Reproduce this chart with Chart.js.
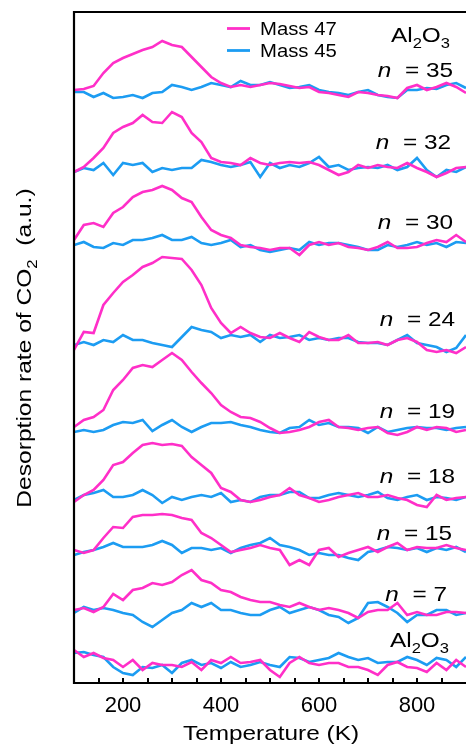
<!DOCTYPE html>
<html>
<head>
<meta charset="utf-8">
<script src="https://cdn.jsdelivr.net/npm/chart.js@4.4.1/dist/chart.umd.min.js"></script>
<style>
html,body{margin:0;padding:0;background:#fff;}
#wrap{position:relative;width:466px;height:749px;}
</style>
</head>
<body>
<div id="wrap"><canvas id="c" width="466" height="749"></canvas></div>
<script>
// Temperature grid (K)
const temps = [100,120,140,160,180,200,220,240,260,280,300,320,340,360,380,400,420,440,460,480,500,520,540,560,580,600,620,640,660,680,700,720,740,760,780,800,820,840,860,880,900];
const xTickLabels = [200,400,600,800];

// Samples (top to bottom) and their vertical stacking offsets (a.u.)
const samples = ['n = 35','n = 32','n = 30','n = 24','n = 19','n = 18','n = 15','n = 7','Al2O3'];
const offsets = [593,513,438,336,253,185,131,73,20];

// Mass 47 traces (a.u., relative to each offset)
const m47_35 = [0,1,4,17,27,32,36,40,43,49,45,43,33,23,13,7,3,5,3,5,7,6,4,2,3,-2,-3,-5,-7,-2,-3,-5,-6,-8,2,5,0,3,7,3,-3];
const m47_32 = [-2,3,12,22,37,43,47,55,48,47,58,53,37,28,12,8,7,5,12,7,5,7,8,7,8,5,0,-5,-2,5,2,5,3,2,7,2,-2,-7,-3,2,3];
const m47_30 = [5,20,22,18,32,38,48,53,55,59,55,47,43,28,15,10,7,0,-2,-3,-5,-3,-3,-10,0,3,0,2,-2,-3,-5,-2,3,-3,-3,-2,2,5,3,10,3];
const m47_24 = [-3,15,14,42,54,65,72,80,84,90,89,88,77,62,39,24,14,20,14,10,9,14,9,5,15,10,7,7,12,4,4,5,2,7,9,5,-3,-5,-3,-6,0];
const m47_19 = [3,10,13,20,40,50,62,65,63,70,77,70,58,47,37,25,18,13,12,8,2,-3,-2,0,3,8,10,3,2,0,2,3,-3,-5,-2,3,0,3,2,-2,0];
const m47_18 = [-4,3,8,18,33,36,45,53,55,53,54,52,41,33,25,10,6,-2,-4,-2,1,3,10,3,0,-4,-2,1,3,5,1,1,3,0,-2,-7,-9,3,-2,0,1];
const m47_15 = [2,-1,2,14,25,24,35,37,37,38,37,34,32,19,14,7,0,2,4,7,4,2,-13,-8,-13,2,4,-5,-1,2,5,0,5,9,2,5,4,4,7,4,2];
const m47_7  = [0,2,-2,3,16,10,20,22,27,25,28,35,40,30,27,20,18,13,10,8,8,5,3,7,3,0,2,0,-3,-8,-2,0,0,7,-5,-2,-5,-5,-2,-2,-3];
const m47_al = [13,6,10,5,3,-4,3,-7,0,-2,-2,-4,1,-7,3,0,6,0,1,3,-7,-14,0,6,0,-2,0,0,-4,-4,-7,-12,-2,1,-4,-5,-9,0,-7,3,-4];

// Mass 45 traces (a.u., relative to each offset)
const m45_35 = [-2,-2,-7,-3,-8,-7,-5,-8,-3,-2,5,3,0,3,7,5,3,9,5,5,8,5,2,3,5,0,-2,-3,-5,-2,0,-5,-7,-8,0,0,2,1,5,7,2];
const m45_32 = [-2,2,0,7,-5,7,5,7,-2,2,0,2,2,10,8,5,3,5,8,-7,7,2,5,3,7,13,3,5,0,2,3,2,5,0,3,12,0,-7,0,-2,3];
const m45_30 = [0,3,-2,-3,2,0,5,5,7,10,5,5,8,2,0,2,5,-2,0,-5,-7,-5,-3,-5,3,0,2,2,0,-2,-5,-5,0,-2,0,3,0,2,-2,3,2];
const m45_24 = [2,5,2,7,5,12,7,7,4,2,0,10,20,17,15,9,12,10,12,5,12,9,10,12,7,9,7,9,9,5,4,4,2,7,12,4,2,0,-5,-1,12];
const m45_19 = [-2,0,-2,0,5,8,7,10,-1,5,10,3,-2,3,7,7,8,5,3,0,-2,-3,2,3,10,5,7,3,3,2,-3,3,-2,0,2,3,2,2,0,2,3];
const m45_18 = [-2,3,5,8,1,1,3,8,3,-5,1,-2,1,3,1,5,-4,-2,-4,1,3,3,6,6,0,0,3,5,3,1,3,6,0,-2,1,3,-2,1,0,-2,1];
const m45_15 = [-3,0,2,5,9,5,5,5,7,11,7,-1,4,4,2,4,-1,4,7,9,14,7,5,2,-3,-1,-3,-3,-6,-8,0,2,5,4,2,4,0,4,2,5,0];
const m45_7  = [-3,3,0,2,0,-3,-5,-12,-17,-10,-3,0,7,3,7,0,0,-3,-5,-5,0,3,-3,0,3,0,-5,-7,-13,-8,7,8,3,-3,-12,-5,-5,0,0,-5,-3];
const m45_al = [10,11,8,6,-4,-10,-12,-4,-5,-2,-10,0,3,-2,0,-5,1,-4,-2,1,-2,-4,6,5,1,3,5,10,6,3,5,0,1,1,6,3,-2,5,3,-4,6];

const mass47 = [m47_35,m47_32,m47_30,m47_24,m47_19,m47_18,m47_15,m47_7,m47_al];
const mass45 = [m45_35,m45_32,m45_30,m45_24,m45_19,m45_18,m45_15,m45_7,m45_al];

const PINK = '#FF2FC8';
const BLUE = '#1C9CF2';
const FONT = '"Liberation Sans", Arial, Helvetica, sans-serif';

const datasets = [];
samples.forEach((s, i) => {
  datasets.push({
    label: 'Mass 45 ' + s,
    data: temps.map((t, j) => ({x: t, y: offsets[i] + mass45[i][j]})),
    borderColor: BLUE, borderWidth: 2.6, pointRadius: 0, tension: 0, fill: false, order: 2
  });
  datasets.push({
    label: 'Mass 47 ' + s,
    data: temps.map((t, j) => ({x: t, y: offsets[i] + mass47[i][j]})),
    borderColor: PINK, borderWidth: 2.6, pointRadius: 0, tension: 0, fill: false, order: 1
  });
});

// rich text: parts = [[text, kind]] kind: 'n' normal, 'i' italic, 's' subscript
function richWidth(ctx, parts, size) {
  let w = 0;
  parts.forEach(([t, k]) => {
    ctx.font = (k === 'i' ? 'italic ' : '') + (k === 's' ? size * 0.68 : size) + 'px ' + FONT;
    w += ctx.measureText(t).width;
  });
  return w;
}
function drawRich(ctx, parts, x, y, size, align, sx, rot) {
  ctx.save();
  ctx.translate(x, y);
  if (rot) ctx.rotate(rot);
  ctx.scale(sx, 1);
  const w = richWidth(ctx, parts, size);
  let cx = align === 'right' ? -w : (align === 'center' ? -w / 2 : 0);
  ctx.fillStyle = '#000';
  ctx.textBaseline = 'alphabetic';
  ctx.textAlign = 'left';
  parts.forEach(([t, k]) => {
    ctx.font = (k === 'i' ? 'italic ' : '') + (k === 's' ? size * 0.68 : size) + 'px ' + FONT;
    const dy = k === 's' ? size * 0.28 : 0;
    ctx.fillText(t, cx, dy);
    cx += ctx.measureText(t).width;
  });
  ctx.restore();
}
function sampleParts(s) {
  if (s === 'Al2O3') return [['Al','n'],['2','s'],['O','n'],['3','s']];
  return [['n','i'],['  ' + s.slice(2),'n']];
}

const decor = {
  id: 'decor',
  afterDatasetsDraw(chart) {
    const ctx = chart.ctx;
    const a = chart.chartArea;
    const xs = chart.scales.x, ys = chart.scales.y;
    ctx.save();
    // frame (left, top, bottom)
    ctx.strokeStyle = '#000';
    ctx.lineWidth = 2.2;
    ctx.beginPath();
    ctx.moveTo(a.right + 2, a.top);
    ctx.lineTo(a.left, a.top);
    ctx.lineTo(a.left, a.bottom);
    ctx.lineTo(a.right + 2, a.bottom);
    ctx.stroke();
    // inward ticks every 50 K
    ctx.lineWidth = 2;
    xs.ticks.forEach(t => {
      if (t.value <= xs.min || t.value >= xs.max) return;
      const px = Math.round(xs.getPixelForValue(t.value));
      ctx.beginPath();
      ctx.moveTo(px, a.bottom);
      ctx.lineTo(px, a.bottom - 5);
      ctx.stroke();
    });
    ctx.restore();

    // sample labels
    const lift = [-13,-21.5,-16.5,-21.5,-12.5,-15.5,-12.5,-9.5,-16];
    const rightX = [453,451,453,455,455,455,452,447,449];
    samples.forEach((s, i) => {
      const py = ys.getPixelForValue(offsets[i]) + lift[i];
      drawRich(ctx, sampleParts(s), rightX[i], py, 21, 'right', 1.16);
    });
    // top substrate label
    drawRich(ctx, sampleParts('Al2O3'), 450, 42, 21, 'right', 1.16);

    // legend
    ctx.save();
    ctx.lineWidth = 2.8;
    ctx.strokeStyle = PINK;
    ctx.beginPath(); ctx.moveTo(227, 28.5); ctx.lineTo(250, 28.5); ctx.stroke();
    ctx.strokeStyle = BLUE;
    ctx.beginPath(); ctx.moveTo(227, 50.5); ctx.lineTo(250, 50.5); ctx.stroke();
    ctx.restore();
    drawRich(ctx, [['Mass 47','n']], 260, 35, 17.5, 'left', 1.16);
    drawRich(ctx, [['Mass 45','n']], 260, 56.5, 17.5, 'left', 1.16);

    // axis titles
    drawRich(ctx, [['Temperature (K)','n']], 271, 740, 21, 'center', 1.16);
    drawRich(ctx, [['Desorption rate of CO','n'],['2','s'],['  (a.u.)','n']], 31, 348, 21, 'center', 1.17, -Math.PI / 2);
  }
};

new Chart(document.getElementById('c'), {
  type: 'line',
  data: { datasets },
  options: {
    responsive: false,
    animation: false,
    events: [],
    layout: { padding: { left: 74, top: 12, right: 0, bottom: 0 } },
    plugins: { legend: { display: false }, tooltip: { enabled: false }, title: { display: false } },
    scales: {
      x: {
        type: 'linear', min: 100, max: 900,
        grid: { display: false, drawTicks: false },
        border: { display: false },
        afterFit: s => { s.height = 66; s.paddingLeft = 0; s.paddingRight = 0; },
        ticks: {
          stepSize: 50, autoSkip: false, maxRotation: 0, padding: 10,
          color: '#000', font: { family: FONT, size: 22 },
          callback: v => xTickLabels.includes(v) ? String(v) : ''
        }
      },
      y: {
        type: 'linear', min: 0, max: 671, display: false
      }
    }
  },
  plugins: [decor]
});
</script>
</body>
</html>
